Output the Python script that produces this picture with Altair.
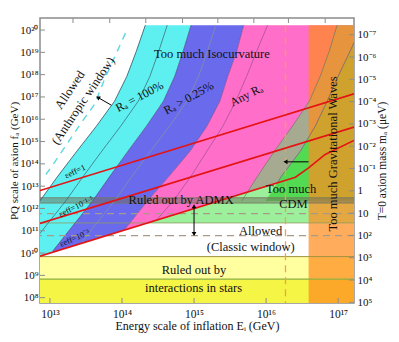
import altair as alt
import pandas as pd

FONT = "Liberation Serif"
W, H = 314, 285
X_DOMAIN = [12.862, 17.22]          # log10(E_I / GeV)
Y_DOMAIN = [7.76, 20.54]            # log10(f_a / GeV)
X_FAR = 17.45

# ---------- values (log10 units) ----------
LEVELS = [20.22, 19.05, 17.93, 16.81, 15.69, 14.57, 13.45, 12.33, 11.21, 10.09, 9.41]
R100_X = [14.324, 14.199, 14.068, 13.897, 13.645, 13.374, 13.110, 12.859, 12.583, 12.308, 12.145]
R025_X = [14.959, 14.848, 14.732, 14.575, 14.339, 14.083, 13.833, 13.590, 13.314, 13.039, 12.903]
ANY_X = [15.690, 15.593, 15.469, 15.359, 15.179, 14.945, 14.655, 14.352, 14.076, 13.800, 13.662]
ANY_END_X = [17.331, 17.166, 17.000, 16.848, 16.683, 16.476, 16.214, 15.993, 15.717, 15.441, 15.276]
CDM_X = [16.986, 16.876, 16.752, 16.600, 16.366, 16.117, 15.883, 15.662]

R100_IN_X = [14.628, 14.510, 14.388, 14.226, 13.982, 13.720, 13.465, 13.218, 12.942, 12.666]
R100_IN_Y = LEVELS[:10]
R025_IN_X = [15.303, 15.186, 15.063, 14.902, 14.659, 14.396, 14.141, 13.894, 13.618, 13.43]
R025_IN_Y = LEVELS[:9] + [10.43]
ANY_IN_X = [16.021, 15.869, 15.731, 15.579, 15.400, 15.179, 14.959, 14.710, 14.48]
ANY_IN_Y = LEVELS[:8] + [11.48]

ANTH_DASH_X = [14.048, 13.897, 13.759, 13.621, 13.441, 13.234, 13.028, 12.917]
ANTH_DASH_Y = [19.861, 18.784, 17.798, 16.677, 15.870, 14.883, 13.897, 13.404]

EPS1_X, EPS1_Y = [12.862, 17.22], [12.80, 17.14]
EPS15_X, EPS15_Y = [12.862, 17.22], [11.33, 15.65]
EPS3_X = [12.862, 16.407, 16.59, 16.82, 17.22]
EPS3_Y = [9.86, 13.40, 13.82, 14.42, 15.05]

CLASSIC_X = [12.862, 14.35, 17.22]
CLASSIC_TOP = [9.86, 11.35, 11.35]

REGION_TOP = 20.22
STARS_TOP, STARS_MID = 9.84, 8.83
CDM_MIN = 11.35
ADMX = (12.24, 12.48)
FUTURE_F = [11.77, 10.78]
GW_EDGE = 16.59
GW_FUTURE = 16.269

LEFT_TICKS = list(range(8, 21))
BOTTOM_TICKS = [13, 14, 15, 16, 17]
TOP_TICKS = [13.32, 13.83, 14.33, 14.84, 15.33, 15.83, 16.31, 16.82]
M_EXPS = list(range(-7, 6))
MA_ONE = 12.79   # f_a where m_a = 1 micro-eV

TEXTS = ["Too much Isocurvature", "Allowed", "(Anthropic window)", "Rₐ = 100%", "Rₐ > 0.25%",
         "Any Rₐ", "Too much Gravitational Waves", "Too much", "CDM", "Ruled out by ADMX",
         "Allowed", "(Classic window)", "Ruled out by", "interactions in stars",
         "εeff=1", "εeff=10⁻¹·⁵", "εeff=10⁻³"]
TEXT_X = [15.248, 13.276, 13.459, 14.241, 14.924, 15.724, 16.924, 16.348, 16.379, 14.821,
          15.924, 15.786, 15.0, 14.993, 13.345, 13.363, 13.341]
TEXT_Y = [18.92, 17.32, 16.83, 17.02, 16.96, 17.08, 14.44, 12.89, 12.18, 12.37,
          11.01, 10.27, 9.22, 8.45, 13.67, 12.10, 10.68]
TEXT_A = [0, 304, 304, 332, 331, 333, 270, 0, 0, 0, 0, 0, 0, 0, 335, 334, 336]
TEXT_S = [12.5, 12.5, 12.5, 12, 12, 12, 12.5, 12.5, 12.5, 12.5, 12.5, 12.5, 12.5, 12.5, 8.5, 8.5, 8.5]

ARROWS = [(13.851, 16.632, 13.666, 16.977), (15.0, 12.10, 15.0, 10.85), (16.59, 14.09, 16.269, 14.09)]
HEADS_X = [13.666, 15.0, 15.0, 16.269]
HEADS_Y = [16.977, 10.85, 12.10, 14.09]
HEADS_SHAPE = ["triangle-up", "triangle-down", "triangle-up", "triangle-left"]
HEADS_ANGLE = [300, 0, 0, 0]

# ---------- helpers ----------
SUP = str.maketrans("0123456789-", "⁰¹²³⁴⁵⁶⁷⁸⁹⁻")
XS = alt.Scale(domain=X_DOMAIN, nice=False, zero=False)
YS = alt.Scale(domain=Y_DOMAIN, nice=False, zero=False)


def xq(f="x"):
    return alt.X(f"{f}:Q", scale=XS, axis=None)


def yq(f="y"):
    return alt.Y(f"{f}:Q", scale=YS, axis=None)


def hband(ys, xl, xr, color, opacity=1.0):
    df = pd.DataFrame({"y": ys, "x": xl, "x2": xr})
    return alt.Chart(df).mark_area(orient="horizontal", clip=True, color=color, opacity=opacity).encode(
        y=yq(), x=alt.X("x:Q", scale=XS, axis=None, stack=None), x2="x2:Q")


def varea(xs, ytop, ybot, color, opacity=1.0):
    df = pd.DataFrame({"x": xs, "y": ytop, "y2": [ybot] * len(xs)})
    return alt.Chart(df).mark_area(clip=True, color=color, opacity=opacity).encode(
        x=xq(), y=alt.Y("y:Q", scale=YS, axis=None, stack=None), y2="y2:Q")


def rect(x1, x2, y1, y2, color, opacity=1.0):
    df = pd.DataFrame({"x": [x1], "x2": [x2], "y": [y1], "y2": [y2]})
    return alt.Chart(df).mark_rect(clip=True, color=color, opacity=opacity).encode(
        x=xq(), x2="x2:Q", y=yq(), y2="y2:Q")


def curve(xs, ys, color, width=0.8, dash=None, opacity=1.0):
    df = pd.DataFrame({"x": xs, "y": ys, "k": list(range(len(xs)))})
    kw = dict(clip=True, color=color, strokeWidth=width, opacity=opacity)
    if dash:
        kw["strokeDash"] = dash
    return alt.Chart(df).mark_line(**kw).encode(x=xq(), y=yq(), order="k:Q")


def hrule(yv, color, width=1.0, dash=None):
    kw = dict(color=color, strokeWidth=width)
    if dash:
        kw["strokeDash"] = dash
    return alt.Chart(pd.DataFrame({"y": [yv]})).mark_rule(**kw).encode(y=yq())


n8 = 8
n_far = [X_FAR] * len(LEVELS)
layers = [
    hband(LEVELS, R100_X, R025_X, "#5ef0f0"),
    hband(LEVELS, R025_X, ANY_X, "#6a6aec"),
    hband(LEVELS, ANY_X, ANY_END_X, "#ff6ec8"),
    hband(LEVELS, ANY_END_X, n_far, "#9cf09c"),
    hband(LEVELS[:n8], CDM_X, ANY_END_X[:n8], "#a6aa90"),
    varea(EPS3_X, EPS3_Y, Y_DOMAIN[0], "#9cf09c"),
    varea(CLASSIC_X, CLASSIC_TOP, STARS_TOP, "white"),
    hband(LEVELS[:n8], ANY_END_X[:n8], n_far[:n8], "#22cc22", 0.6),
    rect(X_DOMAIN[0], X_DOMAIN[1], STARS_MID, STARS_TOP, "#ffffa0"),
    rect(X_DOMAIN[0], X_DOMAIN[1], Y_DOMAIN[0], STARS_MID, "#f5f546"),
    rect(GW_EDGE, X_DOMAIN[1], Y_DOMAIN[0], REGION_TOP, "#ff8c1e", 0.72),
    rect(X_DOMAIN[0], X_DOMAIN[1], ADMX[0], ADMX[1], "#6e6e5a", 0.5),
    hrule(ADMX[0], "#777760", 0.8),
    hrule(ADMX[1], "#777760", 0.8),
    hrule(CDM_MIN, "#909a60", 0.8),
    hrule(STARS_TOP, "#a09040", 1.0),
    hrule(STARS_MID, "#90b040", 1.2),
    curve(R100_X[:9], LEVELS[:9], "#2f5060", 0.8),
    curve(R100_IN_X, R100_IN_Y, "#3a6070", 0.7),
    curve(R025_X[:10], LEVELS[:10], "#404070", 0.6),
    curve(R025_IN_X, R025_IN_Y, "#8090a8", 0.8),
    curve(ANY_X[:9] + [14.03], LEVELS[:9] + [11.03], "#7a3a8a", 0.6),
    curve(ANY_IN_X, ANY_IN_Y, "#9a5090", 0.7),
    curve(CDM_X, LEVELS[:n8], "#6a7a60", 0.7),
    curve(ANY_END_X[:7] + [16.16], LEVELS[:7] + [13.16], "#606078", 0.7),
    curve(ANTH_DASH_X, ANTH_DASH_Y, "#5cd8e0", 1.4, [7, 6]),
    hrule(FUTURE_F[0], "#a89a88", 1.3, [7, 5]),
    hrule(FUTURE_F[1], "#a89a88", 1.3, [7, 5]),
    alt.Chart(pd.DataFrame({"x": [GW_FUTURE], "y": [REGION_TOP], "y2": [Y_DOMAIN[0]]}))
    .mark_rule(color="#f0a050", strokeWidth=1.3, strokeDash=[7, 5])
    .encode(x=xq(), y=yq(), y2="y2:Q"),
    curve(EPS1_X, EPS1_Y, "#e41414", 1.6),
    curve(EPS15_X, EPS15_Y, "#e41414", 1.6),
    curve(EPS3_X, EPS3_Y, "#e41414", 1.6),
]

arrow_df = pd.DataFrame(ARROWS, columns=["x", "y", "x2", "y2"])
layers.append(alt.Chart(arrow_df).mark_rule(color="black", strokeWidth=1).encode(
    x=xq(), y=yq(), x2="x2:Q", y2="y2:Q"))
head_df = pd.DataFrame({"x": HEADS_X, "y": HEADS_Y, "sh": HEADS_SHAPE, "a": HEADS_ANGLE})
layers.append(alt.Chart(head_df).mark_point(filled=True, color="black", size=22, opacity=1).encode(
    x=xq(), y=yq(), shape=alt.Shape("sh:N", scale=None), angle=alt.Angle("a:Q", scale=None)))

text_df = pd.DataFrame({"t": TEXTS, "x": TEXT_X, "y": TEXT_Y, "a": TEXT_A, "s": TEXT_S})
layers.append(alt.Chart(text_df).mark_text(font=FONT, color="#111", baseline="middle", align="center").encode(
    x=xq(), y=yq(), text="t:N", angle=alt.Angle("a:Q", scale=None), size=alt.Size("s:Q", scale=None)))

FRAME = "#8c8c8c"
right_pos = [MA_ONE - k for k in M_EXPS]
layers += [
    alt.Chart(pd.DataFrame({"x": BOTTOM_TICKS})).mark_rule(color=FRAME).encode(
        x=xq(), y=alt.value(H), y2=alt.value(H - 5)),
    alt.Chart(pd.DataFrame({"x": TOP_TICKS})).mark_rule(color=FRAME).encode(
        x=xq(), y=alt.value(0), y2=alt.value(5)),
    alt.Chart(pd.DataFrame({"y": LEFT_TICKS})).mark_rule(color=FRAME).encode(
        y=yq(), x=alt.value(0), x2=alt.value(5)),
    alt.Chart(pd.DataFrame({"y": right_pos})).mark_rule(color=FRAME).encode(
        y=yq(), x=alt.value(W), x2=alt.value(W - 5)),
]

AX = dict(tickSize=0, domain=False, grid=False, labelFont=FONT, labelColor="#111",
          titleFont=FONT, titleFontWeight="normal", titleColor="#111",
          labelFlush=False, labelOverlap=False)


def expr(labels, index):
    return "[" + ",".join("'" + s + "'" for s in labels) + "][" + index + "]"


left_labels = ["10" + str(k).translate(SUP) for k in LEFT_TICKS]
bottom_labels = ["10" + str(k).translate(SUP) for k in BOTTOM_TICKS]
right_labels = ["1" if k == 0 else "10" if k == 1 else "10" + str(k).translate(SUP) for k in M_EXPS]

axes_layer = alt.Chart(pd.DataFrame({"x": [X_DOMAIN[0]], "y": [Y_DOMAIN[0]]})).mark_point(opacity=0).encode(
    x=alt.X("x:Q", scale=XS, axis=alt.Axis(
        values=BOTTOM_TICKS, labelExpr=expr(bottom_labels, "round(datum.value) - 13"),
        title="Energy scale of inflation Eᵢ (GeV)", labelFontSize=11.5, titleFontSize=12,
        labelPadding=5, titlePadding=1, **AX)),
    y=alt.Y("y:Q", scale=YS, axis=alt.Axis(
        values=LEFT_TICKS, labelExpr=expr(left_labels, "round(datum.value) - 8"),
        title="PQ scale of axion fₐ (GeV)", labelFontSize=11, titleFontSize=11,
        labelPadding=2, titlePadding=0, **AX)),
)

right_layer = alt.Chart(pd.DataFrame({"y": right_pos})).mark_point(opacity=0).encode(
    y=alt.Y("y:Q", scale=YS, axis=alt.Axis(
        orient="right", values=right_pos,
        labelExpr=expr(right_labels, "round(" + str(MA_ONE) + " - datum.value) + 7"),
        title="T=0 axion mass mₐ (μeV)", titleAngle=270, titleBaseline="top",
        labelFontSize=11, titleFontSize=11.5, labelPadding=3, titlePadding=1, **AX)))

chart = alt.layer(alt.layer(*layers), axes_layer, right_layer).resolve_scale(
    x="independent", y="independent").properties(
    width=W, height=H,
    autosize=alt.AutoSizeParams(type="none"),
    padding={"left": 32, "top": 10, "right": 37, "bottom": 31},
).configure_view(stroke=FRAME, strokeWidth=1.5)

chart.save("out.html", embed_options={"renderer": "svg", "actions": False})
